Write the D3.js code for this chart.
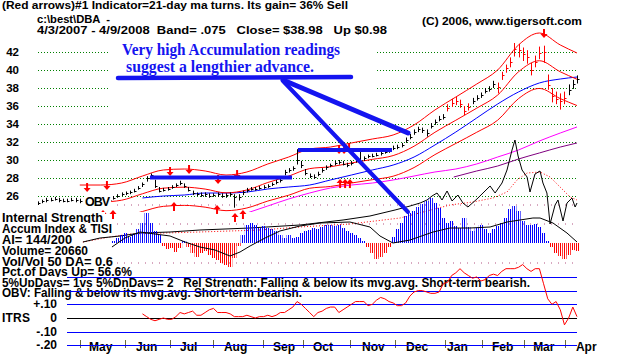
<!DOCTYPE html>
<html><head><meta charset="utf-8">
<script src="https://cdn.jsdelivr.net/npm/d3@7"></script>
<style>
body{margin:0;background:#fff}
svg{display:block}
text{font-family:"Liberation Sans",Arial,sans-serif;font-weight:bold;white-space:pre}
</style>
</head><body><svg id="c" width="622" height="354"></svg>
<script>
// ---------- DATA ----------
// price bars, one every 2 trading days (bar i = trading day 2i), 4/3/2007 .. 4/9/2008
const closes=[25.2,25.4,25.6,25.6,25.7,25.6,25.4,25.5,25.6,25.6,
25.4,25.4,25.6,25.6,25.4,25.4,25.6,25.6,25.8,26.0,
26.2,26.3,26.4,26.6,26.9,27.3,28.0,28.3,27.1,26.6,
26.7,26.8,27.0,27.2,27.4,27.1,26.7,26.3,26.2,26.1,
26.2,26.0,26.1,26.2,26.0,26.1,26.2,25.9,25.9,26.4,
26.7,26.8,26.8,26.9,27.0,27.1,27.3,27.6,27.8,28.7,
28.9,29.1,30.0,29.4,28.6,28.2,28.1,28.4,28.9,29.2,
29.4,29.7,29.8,29.6,29.4,29.7,30.0,29.8,30.2,30.4,
30.5,30.6,30.8,30.9,31.1,31.3,31.5,31.7,32.2,32.6,
33.1,33.4,33.3,33.0,33.8,34.2,34.6,34.8,35.8,36.3,
36.6,36.2,35.4,35.9,36.6,36.9,37.2,37.7,37.9,38.4,
38.1,39.4,40.2,40.9,42.3,42.2,41.8,41.4,40.0,40.9,
41.9,42.0,38.3,37.1,36.8,36.6,36.9,37.8,38.4,38.98];
const highs=[25.4,25.6,25.8,25.8,25.9,25.8,25.7,25.7,25.8,25.8,
25.7,25.6,25.8,25.8,25.7,25.6,25.8,25.8,26.0,26.2,
26.4,26.5,26.6,26.8,27.1,27.5,28.2,28.5,27.8,27.0,
26.9,27.0,27.2,27.4,27.7,27.4,27.0,26.6,26.4,26.4,
26.4,26.3,26.3,26.4,26.3,26.3,26.4,26.2,26.2,26.6,
26.9,27.0,27.0,27.1,27.2,27.3,27.5,27.8,28.0,28.9,
29.1,29.3,31.2,29.9,29.0,28.5,28.4,28.7,29.1,29.4,
29.6,29.9,30.0,29.9,29.7,29.9,30.2,31.1,30.4,30.6,
30.7,30.8,31.0,31.1,31.3,31.6,31.7,31.9,32.5,32.9,
33.4,33.7,33.6,33.4,34.1,34.5,34.9,35.1,36.2,36.8,
37.0,36.7,36.0,36.3,36.9,37.2,37.5,38.0,38.2,38.8,
38.6,39.8,40.6,41.4,43.0,42.9,42.5,42.2,40.8,41.6,
42.6,42.7,39.5,38.0,37.6,37.4,37.6,38.4,38.9,39.4];
const lows=[25.0,25.2,25.3,25.4,25.5,25.3,25.3,25.3,25.4,25.3,
25.2,25.2,25.4,25.4,25.3,25.2,25.4,25.4,25.6,25.8,
26.0,26.1,26.2,26.4,26.7,27.0,27.6,27.9,26.9,26.4,
26.5,26.6,26.8,27.0,27.2,26.9,26.5,26.1,26.0,25.9,
25.9,25.8,25.9,25.9,25.8,25.8,26.0,24.7,25.5,26.1,
26.4,26.6,26.6,26.7,26.8,26.9,27.1,27.3,27.5,28.3,
28.6,28.8,29.5,29.1,28.3,28.0,27.9,28.2,28.6,28.9,
29.2,29.4,29.5,29.4,29.2,29.4,29.7,29.6,29.9,30.2,
30.3,30.4,30.5,30.7,30.8,31.1,31.2,31.4,31.9,32.3,
32.8,33.1,33.0,32.6,33.5,33.9,34.3,34.5,35.4,35.9,
36.1,35.8,35.0,35.5,36.2,36.6,36.9,37.4,37.6,38.0,
37.4,38.9,39.7,40.3,41.5,41.4,41.0,40.7,39.4,40.3,
41.2,40.8,37.8,36.4,36.2,35.6,36.2,37.2,37.9,38.5];
const redBarSpans=[[98,103],[110,126]];      // bars drawn red (sell mode)

// moving averages / bands (trading-day index)
const bandDays=[20,30,40,50,60,70,80,90,100,110,120,130,140,150,160,170,180,190,200,210,220,230,240,250,258];
const upperBand=[27.22,27.22,27.44,28.22,28.89,29.0,28.78,28.33,28.67,29.56,30.33,31.22,31.44,31.89,32.33,32.78,33.89,35.56,37.0,38.44,40.0,42.78,44.11,42.78,41.89];
const ma21=[null,25.32,25.53,26.25,26.87,26.98,26.77,26.35,26.67,27.5,28.21,29.04,29.25,29.67,30.07,30.49,31.53,33.08,34.42,35.76,37.21,39.8,41.03,39.8,38.97];
const lowerBand=[23.42,23.42,23.62,24.28,24.85,24.96,24.76,24.37,24.67,25.44,26.09,26.86,27.06,27.44,27.81,28.2,29.16,30.6,31.84,33.08,34.42,36.82,37.95,36.82,36.05];
const maDays=[50,60,70,80,90,100,110,120,130,140,150,160,170,180,190,200,210,220,230,240,250,258];
const ma50=[25.78,26.0,26.11,26.33,26.33,26.44,26.78,27.0,27.22,27.78,28.33,28.89,29.44,30.33,31.67,33.11,34.67,36.22,37.56,38.56,39.0,39.22];
const longDays=[100,110,120,130,140,150,160,170,180,190,200,210,220,230,240,250,258];
const maLong=[24.11,24.89,25.67,26.33,26.89,27.22,27.44,27.78,28.22,28.67,29.0,29.56,30.33,31.11,32.11,33.0,33.67];
const relDays=[199,210,220,230,240,250,258];
const relLine=[28.11,28.78,29.33,30.11,30.78,31.44,31.89];

// OBV (relative units), its average, TISI
const obvDays=[21.5,29.7,39.3,48.8,63.2,77.5,101.5,125.4,146,158.9,170.9,178.1,182.9,186.2,188.6,191,193.4,195.8,198.2,201,203.4,205.8,210.1,213,216.4,218.8,222.1,224.5,226.9,228.3,229.8,231.7,234.1,235.5,237.9,240.3,241.7,243.6,245.1,247.5,248.9,251.3,253.2,255.6,257.1,258];
const obv=[1,5,7,10,11,13,15,18,23,27,33,37,40,43,47,50,43,52,42,48,40,36,44,50,57,50,60,73,93,103,87,73,66,51,69,72,60,50,19,38,43,22,40,45,36,40];
const obvAvgDays=[21.5,34.5,44,77.5,106.3,125.4,149.3,173.3,197.2,208.2,217.8,224.5,229.3,234.1,240.3,245.1,249.9,254.7,258];
const obvAvg=[1,6,9,11,13,16,19,25,38,41,45,51,63,70,71,66,56,46,43];
const tisiDays=[35.4,41.6,48.8,56,63.2,70.4,77.5,84.7,91.9,96.7,101.5,108.7,115.8,125.4,135,149.3,158.9,163.7,169.9,178.1,189.1,197.2,206.8,216.4,224.5,236.9,240.3,246.5,253.2,258];
const tisi=[-4,5,11,9,7,1,-4,-7,-13,-9,-3,5,12,17,20,21,16,7,0,3,11,15,15,16,21,25,25,20,10,1];

// Accumulation Index, bars 18..129
const accumStart=18;
const accum=[2,5,8,10,6,9,14,20,30,20,12,8,-3,-6,-5,-9,-5,2,-4,-10,
-14,-10,-8,-12,-15,-17,-20,-22,-24,-15,-3,8,18,20,18,15,17,15,14,12,
8,5,8,5,6,10,12,13,15,14,16,18,18,17,18,15,12,10,8,5,
2,-4,-10,-16,-14,-10,-4,6,14,20,27,30,32,36,39,42,45,40,35,25,
20,22,17,15,25,16,12,15,18,14,10,14,17,20,25,34,37,32,22,18,
18,19,16,10,2,-4,-10,-13,-16,-12,-7,-8];

// ITRS, bars 25..129
const itrsStart=25;
const itrs=[0.03,0.01,-0.01,-0.02,-0.01,0.0,-0.01,-0.01,0.01,0.04,
0.03,0.04,0.05,0.02,0.02,0.04,0.06,0.07,0.04,0.04,
0.04,0.03,0.01,0.01,0.01,0.02,0.01,0.0,0.01,0.01,
0.02,0.01,0.02,0.04,0.04,0.06,0.08,0.12,0.10,0.07,
0.04,0.01,0.04,0.05,0.07,0.08,0.08,0.04,0.06,0.08,
0.10,0.12,0.12,0.12,0.09,0.10,0.13,0.15,0.14,0.12,
0.11,0.09,0.09,0.11,0.16,0.19,0.20,0.20,0.19,0.18,
0.18,0.19,0.25,0.26,0.31,0.33,0.36,0.33,0.31,0.29,
0.30,0.27,0.28,0.31,0.32,0.31,0.34,0.36,0.36,0.36,
0.37,0.39,0.36,0.34,0.36,0.36,0.25,0.14,0.10,0.12,
0.06,-0.05,0.0,0.08,0.01];

// signal arrows [trading day, price]
const sellArrows=[[23.5,26.89],[33,27.11],[63.2,28.67],[72.3,28.89],[86.2,27.78],[95.3,28.33],[144.1,31.11],[146.5,31.11],[148.9,31.33],[242.2,44.0]];
const buyArrows=[[31.1,24.0],[35.9,24.0],[65.1,24.89],[85.7,24.56],[94.3,23.67],[98.1,24.0],[144.6,27.44],[147,27.44],[149.3,27.44]];

// axes
const priceTicks=[26,28,30,32,34,36,38,40,42];
const itrsTicks=[0.3,0.2,0.1,-0.1,-0.2];
const itrsLabels=[[0.3,"+.30"],[0.1,"+.10"],[0,"0"],[-0.1,"-.10"],[-0.2,"-.20"]];
const monthNames=["May","Jun","Jul","Aug","Sep","Oct","Nov","Dec","Jan","Feb","Mar","Apr"];
const monthTickDays=[20,41.6,63.2,83.8,107.7,126.9,149.4,170.9,194.8,212.5,232.6,252.3];
const monthLabelDays=[24.4,46.9,68,89,112.5,131.6,155.1,176.2,195.8,217.3,237,257.5];

// texts
const headerLines=[["(Red arrows)#1 Indicator=21-day ma turns. Its gain= 36% Sell",2,9,346],
["c:\\best\\DBA  -",37,23,73],
["4/3/2007 - 4/9/2008  Band= .075   Close= $38.98   Up $0.98",37,34,350],
["(C) 2006, www.tigersoft.com",422,25,160]];
const infoLines=[["Internal Strength",222,101],["Accum Index & TISI",233,110],["AI= 144/200",244,70],
["Volume= 20660",255,86],["Vol/Vol 50 DA= 0.6",266,111],["Pct.of Days Up= 56.6%",276,130],
["5%UpDays= 1vs 5%DnDays= 2   Rel Strength: Falling & below its mvg.avg. Short-term bearish.",287,528],
["OBV: Falling & below its mvg.avg. Short-term bearish.",297,300]];
const noteLines=["Very high Accumulation readings","suggest a lengthier advance."];

// ---------- DRAW ----------
const svg=d3.select("#c");
svg.append("rect").attr("width",622).attr("height",354).attr("fill","#fff");
const x=d3.scaleLinear().domain([0,258]).range([38,577]);
const y=d3.scaleLinear().domain([26,42]).range([196,52]);
const ya=d3.scaleLinear().domain([-30,50]).range([273,193]);
const yi=d3.scaleLinear().domain([-0.2,0.3]).range([345.4,276.9]);
const BLUE="#0000ff", RED="#ff0000";

const defs=svg.append("defs");
[["stripeB",BLUE],["stripeR",RED]].forEach(([id,c])=>{
  const p=defs.append("pattern").attr("id",id).attr("patternUnits","userSpaceOnUse").attr("width",2).attr("height",4);
  p.append("rect").attr("width",1).attr("height",4).attr("fill",c);
});
defs.append("clipPath").attr("id","pc").append("rect").attr("x",30).attr("y",0).attr("width",560).attr("height",212);

// price grid
svg.append("g").selectAll("line").data(priceTicks).join("line")
  .attr("x1",38).attr("x2",577).attr("y1",d=>Math.round(y(d))+0.5).attr("y2",d=>Math.round(y(d))+0.5)
  .attr("stroke","#008000").attr("stroke-dasharray","1,2");
// accum-panel dotted rows
svg.append("g").selectAll("line").data([38,19,-20]).join("line")
  .attr("x1",110).attr("x2",577).attr("y1",d=>ya(d)).attr("y2",d=>ya(d))
  .attr("stroke","#b05080").attr("stroke-dasharray","1,6");
// annotation box
svg.append("rect").attr("x",110).attr("y",40).attr("width",267).attr("height",76).attr("fill","#fff");

const lineP=(days,vals,sc)=>d3.line().defined(d=>d[1]!=null).x(d=>x(d[0])).y(d=>sc(d[1])).curve(d3.curveMonotoneX)(days.map((d,i)=>[d,vals[i]]));
const gp=svg.append("g").attr("clip-path","url(#pc)").attr("fill","none");
gp.append("path").attr("d",lineP(relDays,relLine,y)).attr("stroke","#800080");
gp.append("path").attr("d",lineP(longDays,maLong,y)).attr("stroke","#ff00ff");
gp.append("path").attr("d",lineP(maDays,ma50,y)).attr("stroke",BLUE);
gp.append("path").attr("d",lineP(bandDays,lowerBand,y)).attr("stroke",RED);
gp.append("path").attr("d",lineP(bandDays,ma21,y)).attr("stroke",RED);
gp.append("path").attr("d",lineP(bandDays,upperBand,y)).attr("stroke",RED);

// OBV and average, TISI
const lineL=(days,vals,sc)=>d3.line().x(d=>x(d[0])).y(d=>sc(d[1]))(days.map((d,i)=>[d,vals[i]]));
svg.append("path").attr("d",lineL(obvAvgDays,obvAvg,ya)).attr("fill","none").attr("stroke",RED).attr("stroke-dasharray","1,2");
svg.append("path").attr("d",lineL(obvDays,obv,ya)).attr("fill","none").attr("stroke","#000");

// price bars
const isRed=i=>redBarSpans.some(([a,b])=>i>=a&&i<=b);
const bars=svg.append("g");
closes.forEach((c,i)=>{
  const xx=Math.round(x(2*i))+0.5, col=isRed(i)?RED:"#000";
  bars.append("line").attr("x1",xx).attr("x2",xx).attr("y1",y(highs[i])).attr("y2",y(lows[i])).attr("stroke",col);
  bars.append("line").attr("x1",xx).attr("x2",xx+2).attr("y1",Math.round(y(c))+0.5).attr("y2",Math.round(y(c))+0.5).attr("stroke",col);
});

// accumulation bars
const w=x(2)-x(0);
svg.append("g").selectAll("rect").data(accum).join("rect")
  .attr("x",(d,k)=>x(2*(k+accumStart))-w/2).attr("width",w)
  .attr("y",d=>d>=0?ya(d):ya(0)).attr("height",d=>Math.abs(ya(d)-ya(0)))
  .attr("fill",d=>d>=0?"url(#stripeB)":"url(#stripeR)");
svg.append("path").attr("d",lineL(tisiDays,tisi,ya)).attr("fill","none").attr("stroke","#000");

// arrows
const ga=svg.append("g").attr("fill",RED).attr("stroke",RED);
sellArrows.forEach(([d,p])=>{const X=x(d),Y=y(p);
  ga.append("line").attr("x1",X).attr("x2",X).attr("y1",Y-5).attr("y2",Y+1).attr("stroke-width",2);
  ga.append("path").attr("d",`M${X-3.5},${Y}L${X+3.5},${Y}L${X},${Y+4}Z`).attr("stroke","none");});
buyArrows.forEach(([d,p])=>{const X=x(d),Y=y(p);
  ga.append("line").attr("x1",X).attr("x2",X).attr("y1",Y-1).attr("y2",Y+5).attr("stroke-width",2);
  ga.append("path").attr("d",`M${X-3.5},${Y}L${X+3.5},${Y}L${X},${Y-4}Z`).attr("stroke","none");});

// annotation
const NB="#1414f0";
svg.append("text").attr("x",122).attr("y",55).attr("textLength",218).attr("lengthAdjust","spacingAndGlyphs")
  .style("font-family","'Liberation Serif','Times New Roman',serif").style("font-size","16px").attr("fill",NB).text(noteLines[0]);
svg.append("text").attr("x",126).attr("y",72).attr("textLength",188).attr("lengthAdjust","spacingAndGlyphs")
  .style("font-family","'Liberation Serif','Times New Roman',serif").style("font-size","16px").attr("fill",NB).text(noteLines[1]);
const gn=svg.append("g").attr("stroke",NB).attr("stroke-linecap","round");
gn.append("line").attr("x1",118).attr("y1",78).attr("x2",351).attr("y2",77).attr("stroke-width",4.5);
gn.append("line").attr("x1",283).attr("y1",80).attr("x2",408).attr("y2",133).attr("stroke-width",5);
gn.append("line").attr("x1",283).attr("y1",81).attr("x2",408).attr("y2",212).attr("stroke-width",4);
gn.append("line").attr("x1",150).attr("y1",177.5).attr("x2",292).attr("y2",177.5).attr("stroke-width",4).attr("stroke-linecap","butt");
gn.append("line").attr("x1",298).attr("y1",150).attr("x2",392).attr("y2",150).attr("stroke-width",4).attr("stroke-linecap","butt");

// OBV label
svg.append("rect").attr("x",84).attr("y",194).attr("width",27).attr("height",13).attr("fill","#fff");
svg.append("text").attr("x",85).attr("y",206).style("font-size","12.5px").attr("textLength",25).text("OBV");

// header
svg.append("g").selectAll("text").data(headerLines).join("text")
  .attr("x",d=>d[1]).attr("y",d=>d[2]).attr("textLength",d=>d[3]).attr("lengthAdjust","spacingAndGlyphs")
  .style("font-size","11px").text(d=>d[0]);

// price axis
const ax=svg.append("g").attr("transform","translate(19,0)")
  .call(d3.axisLeft(y).tickValues(priceTicks).tickSize(0).tickPadding(0).tickFormat(d3.format("d")));
ax.select(".domain").remove();
ax.selectAll("text").style("font-size","11.5px").style("font-family","'Liberation Sans',Arial,sans-serif").style("font-weight","bold").attr("fill","#000");

// ITRS labels
svg.append("g").selectAll("text").data(itrsLabels).join("text")
  .attr("x",57).attr("y",d=>yi(d[0])+4).attr("text-anchor","end").style("font-size","12px").text(d=>d[1]);

// info rows with white backing
const gi=svg.append("g");
infoLines.forEach(([t,b,wd])=>{
  gi.append("rect").attr("x",0).attr("y",b-10).attr("width",wd+4).attr("height",12.5).attr("fill","#fff");
  gi.append("text").attr("x",2).attr("y",b).attr("textLength",wd).attr("lengthAdjust","spacingAndGlyphs").style("font-size","12px").text(t);
});
svg.append("text").attr("x",2).attr("y",322).style("font-size","12px").attr("textLength",28).text("ITRS");

// month axis
svg.append("g").selectAll("line").data(monthTickDays).join("line")
  .attr("x1",d=>Math.round(x(d))+0.5).attr("x2",d=>Math.round(x(d))+0.5).attr("y1",340).attr("y2",348).attr("stroke","#6b6b3a");
svg.append("g").selectAll("text").data(monthNames).join("text")
  .attr("x",(d,i)=>x(monthLabelDays[i])).attr("y",351).style("font-size","12px").text(d=>d);

// ITRS panel lines
svg.append("g").selectAll("line").data(itrsTicks).join("line")
  .attr("x1",67).attr("x2",577).attr("y1",d=>Math.round(yi(d))+0.5).attr("y2",d=>Math.round(yi(d))+0.5).attr("stroke",BLUE);
svg.append("line").attr("x1",67).attr("x2",577).attr("y1",Math.round(yi(0))+0.5).attr("y2",Math.round(yi(0))+0.5).attr("stroke","#000");
svg.append("path").attr("d",d3.line().x((d,k)=>x(2*(k+itrsStart))).y(d=>yi(d))(itrs)).attr("fill","none").attr("stroke",RED);
</script>
</body></html>
